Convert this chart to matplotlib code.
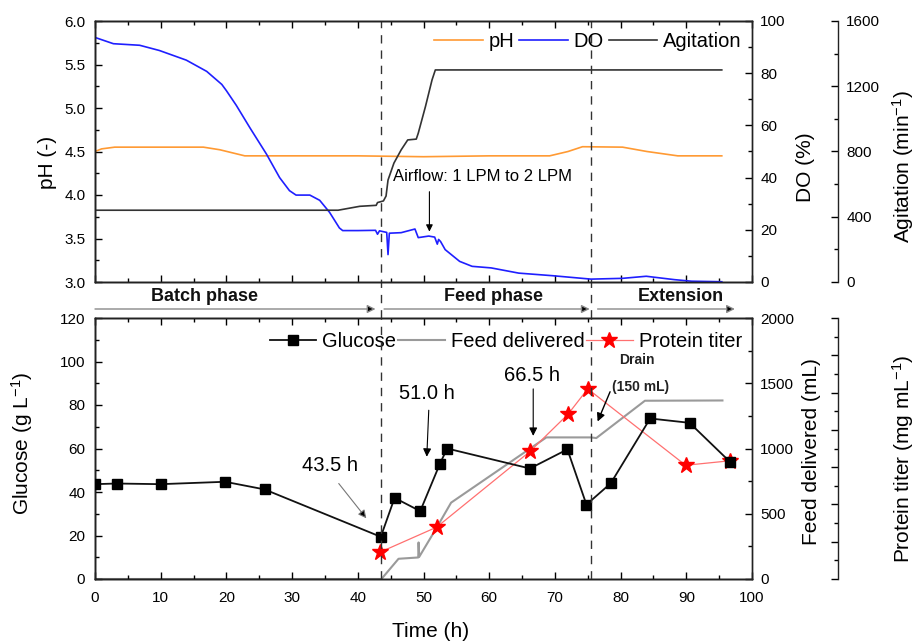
import matplotlib
matplotlib.use("Agg")
import matplotlib.pyplot as plt
from matplotlib.ticker import MultipleLocator, NullFormatter
import matplotlib.transforms as mtransforms

plt.rcParams['font.family'] = ['Liberation Sans', 'DejaVu Sans']
plt.rcParams['mathtext.fontset'] = 'custom'
plt.rcParams['mathtext.rm'] = 'Liberation Sans'
plt.rcParams['mathtext.default'] = 'regular'

# ---------------- data: top panel ----------------
ph_t = [0, 1, 3, 16.5, 19, 22.8, 30, 40, 50, 60, 69.2, 72, 74.2, 80.3, 84, 88.7, 95.4]
ph_v = [4.50, 4.53, 4.55, 4.55, 4.52, 4.45, 4.45, 4.45, 4.44, 4.45, 4.45, 4.50, 4.555,
        4.55, 4.50, 4.45, 4.45]

do_t = [0, 2.8, 6.8, 9.8, 13.9, 17.0, 19.3, 20.0, 21.5, 23.6, 26.1, 28.1, 29.6, 30.6,
        32.7, 34.2, 35.7, 37.2, 37.7, 40, 42.7, 43.0, 43.3, 44.4, 44.6, 44.8, 46.6,
        48.7, 49.2, 50.8, 51.7, 52.1, 52.3, 52.6, 53.3, 55.5, 57.4, 60.3, 64.5, 69.7,
        75.5, 80.3, 83.9, 88.2, 90.8, 95.4]
do_v = [93.7, 91.3, 90.7, 88.7, 85, 80.7, 75.7, 73.3, 67.7, 59, 49, 40, 35, 33.3,
        33.3, 31.3, 26.7, 20.7, 19.7, 19.7, 19.8, 18.3, 19.6, 19.0, 10.5, 18.7, 18.9,
        20.3, 17.0, 17.6, 17.2, 14.5, 16.3, 15.5, 12.4, 7.9, 6.0, 5.4, 3.4, 2.4,
        1.1, 1.4, 2.2, 0.9, 0.3, 0.1]

agit_t = [0, 37.0, 40.3, 42.8, 43.0, 43.9, 44.3, 44.6, 45.5, 46.6, 47.6, 48.9, 49.2,
          50.3, 51.3, 51.8, 95.4]
agit_v = [440, 440, 464, 470, 487, 497, 527, 625, 729, 810, 871, 876, 912,
          1076, 1239, 1300, 1300]

# ---------------- data: bottom panel ----------------
glc_t = [0, 3.3, 10, 19.8, 25.8, 43.5, 45.6, 49.5, 52.5, 53.6, 66.2, 71.9, 74.8,
         78.5, 84.5, 90.5, 96.6]
glc_v = [43.6, 43.9, 43.6, 44.7, 41.2, 19.4, 37.3, 31.2, 53, 60, 50.8, 59.6, 34.2,
         44, 73.8, 71.8, 54]

feed_t = [0, 43.6, 46.2, 49.2, 49.25, 49.35, 52.0, 54.2, 68.7, 75.5, 76.3, 83.7, 95.5]
feed_v = [0, 0, 155, 165, 280, 170, 393, 585, 1085, 1085, 1080, 1366, 1368]

prot_t = [43.4, 52.0, 66.2, 72.0, 75.0, 89.9, 96.6]
prot_v = [0.72, 1.39, 3.42, 4.42, 5.10, 3.05, 3.17]

phase_lines = [43.5, 75.5]

# ---------------- figure ----------------
W, H = 923, 642
fig = plt.figure(figsize=(W / 100, H / 100), dpi=100)
L, R = 95, 752
ax1 = fig.add_axes([L / W, 1 - 282 / H, (R - L) / W, 261 / H])
ax2 = fig.add_axes([L / W, 1 - 579 / H, (R - L) / W, 261 / H])

TICK_FS = 11
LAB_FS = 15
SP_LW = 1.0
OFF = 1 + (838 - R) / (R - L)

def style_axis(ax):
    for s in ax.spines.values():
        s.set_linewidth(SP_LW)
        s.set_color('#222222')

# ---- top panel ----
ax1b = ax1.twinx()
ax1c = ax1.twinx()
ax1c.spines['right'].set_position(('axes', OFF))
for a in (ax1, ax1b, ax1c):
    style_axis(a)

l_ph, = ax1.plot(ph_t, ph_v, color='#FF9A33', lw=1.2)
l_do, = ax1b.plot(do_t, do_v, color='#1F1FFF', lw=1.2)
l_ag, = ax1c.plot(agit_t, agit_v, color='#333333', lw=1.2)

ax1.set_xlim(0, 100)
ax1.set_ylim(3.0, 6.0)
ax1b.set_ylim(0, 100)
ax1c.set_ylim(0, 1600)
ax1.xaxis.set_major_locator(MultipleLocator(10))
ax1.xaxis.set_minor_locator(MultipleLocator(5))
ax1.yaxis.set_major_locator(MultipleLocator(0.5))
ax1.yaxis.set_minor_locator(MultipleLocator(0.25))
ax1b.yaxis.set_major_locator(MultipleLocator(20))
ax1b.yaxis.set_minor_locator(MultipleLocator(10))
ax1c.yaxis.set_major_locator(MultipleLocator(400))
ax1c.yaxis.set_minor_locator(MultipleLocator(200))
ax1.tick_params(axis='x', which='both', direction='in', top=True, labelbottom=False)
ax1.tick_params(axis='y', which='both', direction='in', labelsize=TICK_FS, pad=7)
ax1b.tick_params(axis='y', which='both', direction='in', labelsize=TICK_FS, pad=6)
ax1c.tick_params(axis='y', which='both', direction='in', labelsize=TICK_FS, pad=6)
for a in (ax1, ax1b, ax1c):
    a.tick_params(which='major', length=5, width=1.0)
    a.tick_params(which='minor', length=3, width=1.0)

ax1.set_ylabel('pH (-)', fontsize=LAB_FS)
ax1.yaxis.set_label_coords(-0.058, 0.46)
ax1b.set_ylabel('DO (%)', fontsize=LAB_FS)
ax1b.yaxis.set_label_coords(1.067, 0.44)
ax1c.set_ylabel('Agitation (min$^{-1}$)', fontsize=LAB_FS)
ax1c.yaxis.set_label_coords(1.21, 0.44)

ax1c.legend([l_ph, l_do, l_ag], ['pH', 'DO', 'Agitation'], loc='upper right',
            bbox_to_anchor=(1.0, 0.995), ncol=3, frameon=False, fontsize=14.5,
            handlelength=2.4, handletextpad=0.3, columnspacing=0.25, borderaxespad=0.1)

def do2ph(d):
    return 3 + d * 0.03

ax1.text(45.3, do2ph(40.4), 'Airflow: 1 LPM to 2 LPM', fontsize=12, ha='left',
         va='center')
ax1.annotate('', xy=(50.9, do2ph(19.3)), xytext=(50.9, do2ph(34.6)),
             arrowprops=dict(arrowstyle='-|>', color='black', lw=0.8,
                             mutation_scale=10, shrinkA=0, shrinkB=0))

# ---- bottom panel ----
ax2b = ax2.twinx()
ax2c = ax2.twinx()
ax2c.spines['right'].set_position(('axes', OFF))
for a in (ax2, ax2b, ax2c):
    style_axis(a)

l_glc, = ax2.plot(glc_t, glc_v, color='#111111', lw=1.3, marker='s', ms=7,
                  mfc='black', mec='black', zorder=5)
l_feed, = ax2b.plot(feed_t, feed_v, color='#9A9A9A', lw=1.5)
l_prot, = ax2c.plot(prot_t, prot_v, color='#FF7070', lw=0.9, marker='*', ms=12,
                    mfc='#FF0000', mec='#FF0000')
ax2.set_zorder(ax2c.get_zorder() + 1)
ax2.patch.set_visible(False)

ax2.set_xlim(0, 100)
ax2.set_ylim(0, 120)
ax2b.set_ylim(0, 2000)
ax2c.set_ylim(0, 7)
ax2.xaxis.set_major_locator(MultipleLocator(10))
ax2.xaxis.set_minor_locator(MultipleLocator(5))
ax2.yaxis.set_major_locator(MultipleLocator(20))
ax2.yaxis.set_minor_locator(MultipleLocator(10))
ax2b.yaxis.set_major_locator(MultipleLocator(500))
ax2b.yaxis.set_minor_locator(MultipleLocator(250))
ax2c.yaxis.set_major_locator(MultipleLocator(1))
ax2c.yaxis.set_minor_locator(MultipleLocator(0.5))
ax2c.yaxis.set_major_formatter(NullFormatter())
ax2.tick_params(axis='x', which='both', direction='in', top=True, labelsize=TICK_FS,
                pad=9)
ax2.tick_params(axis='y', which='both', direction='in', labelsize=TICK_FS, pad=7)
ax2b.tick_params(axis='y', which='both', direction='in', labelsize=TICK_FS, pad=6)
ax2c.tick_params(axis='y', which='both', direction='in', labelsize=TICK_FS, pad=6)
for a in (ax2, ax2b, ax2c):
    a.tick_params(which='major', length=5, width=1.0)
    a.tick_params(which='minor', length=3, width=1.0)

ax2.set_xlabel('Time (h)', fontsize=LAB_FS)
ax2.xaxis.set_label_coords(0.51, -0.165)
ax2.xaxis.label.set_va('top')
ax2.set_ylabel('Glucose (g L$^{-1}$)', fontsize=LAB_FS)
ax2.yaxis.set_label_coords(-0.091, 0.52)
ax2b.set_ylabel('Feed delivered (mL)', fontsize=LAB_FS)
ax2b.yaxis.set_label_coords(1.076, 0.487)
ax2c.set_ylabel('Protein titer (mg mL$^{-1}$)', fontsize=LAB_FS)
ax2c.yaxis.set_label_coords(1.21, 0.46)

ax2.legend([l_glc, l_feed, l_prot], ['Glucose', 'Feed delivered', 'Protein titer'],
           loc='upper right', bbox_to_anchor=(1.0, 0.985), ncol=3, frameon=False,
           fontsize=14.5, handlelength=2.3, handletextpad=0.3, columnspacing=0.1,
           borderaxespad=0.1)

# annotations bottom
ax2.text(35.8, 52.3, '43.5 h', fontsize=14.5, ha='center', va='center')
ax2.annotate('', xy=(41.3, 27.9), xytext=(37.1, 43.9),
             arrowprops=dict(arrowstyle='-|>', edgecolor='#777777', facecolor='black',
                             lw=0.8, mutation_scale=12, shrinkA=0, shrinkB=0))
ax2.text(50.5, 85.3, '51.0 h', fontsize=14.5, ha='center', va='center')
ax2.annotate('', xy=(50.5, 56.2), xytext=(50.8, 77.6),
             arrowprops=dict(arrowstyle='-|>', color='black', lw=0.8,
                             mutation_scale=12, shrinkA=0, shrinkB=0))
ax2.text(66.5, 93.5, '66.5 h', fontsize=14.5, ha='center', va='center')
ax2.annotate('', xy=(66.7, 65.8), xytext=(66.7, 87.4),
             arrowprops=dict(arrowstyle='-|>', color='black', lw=0.8,
                             mutation_scale=12, shrinkA=0, shrinkB=0))
ax2.text(82.5, 100.5, 'Drain', fontsize=10, fontweight='bold', ha='center',
         va='center', color='#222222')
ax2.text(83.1, 88.2, '(150 mL)', fontsize=10, fontweight='bold', ha='center',
         va='center', color='#222222')
ax2.annotate('', xy=(76.5, 72.4), xytext=(78.4, 86.1),
             arrowprops=dict(arrowstyle='-|>', color='black', lw=1.0,
                             mutation_scale=12, shrinkA=0, shrinkB=0))

# phase dashed lines
for x in phase_lines:
    ax1.axvline(x, ymin=-0.138, ymax=1, color='#333333', lw=1.0,
                ls=(0, (6, 5)), clip_on=False, zorder=6)
    ax2.axvline(x, color='#333333', lw=1.0, ls=(0, (6, 5)), zorder=6)

# phase labels between panels
trans = mtransforms.blended_transform_factory(ax1.transData, ax1.transAxes)
y_txt = (282 - 297) / 261
y_arr = (282 - 309) / 261
phases = [('Batch phase', 16.7, 0, 42.7),
          ('Feed phase', 60.6, 44.0, 75.3),
          ('Extension', 89.2, 76.5, 97.4)]
for name, xc, x0, x1 in phases:
    ax1.text(xc, y_txt, name, transform=trans, fontsize=13, fontweight='bold',
             ha='center', va='center', clip_on=False, color='#111111')
    ax1.annotate('', xy=(x1, y_arr), xytext=(x0, y_arr), xycoords=trans,
                 textcoords=trans, annotation_clip=False,
                 arrowprops=dict(arrowstyle='-|>', edgecolor='#888888',
                                 facecolor='black', lw=1.0, mutation_scale=12,
                                 shrinkA=0, shrinkB=0))

fig.savefig('out.png', dpi=100)
